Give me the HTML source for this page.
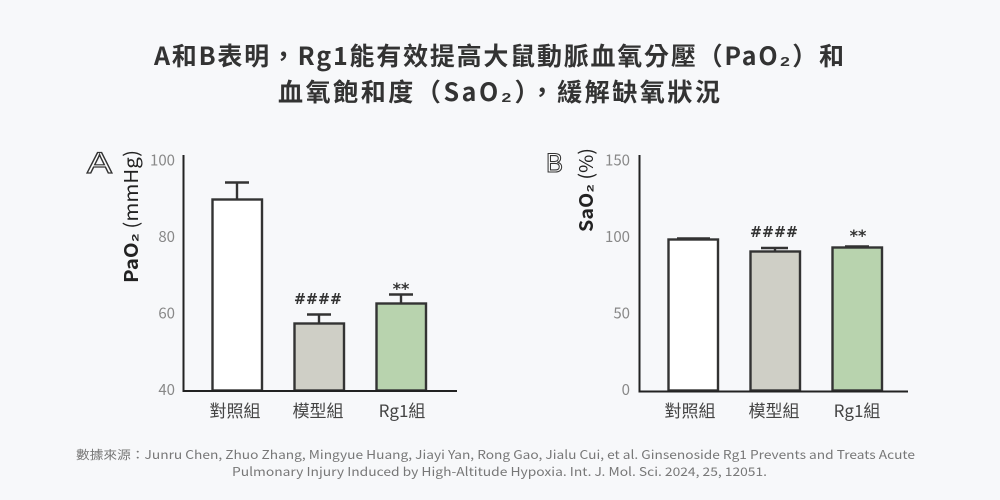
<!DOCTYPE html>
<html>
<head>
<meta charset="utf-8">
<style>
  html, body { margin:0; padding:0; background:#f7f8fa; }
  svg { display:block; }
  .t { font-family:"Noto Sans CJK TC","Liberation Sans","DejaVu Sans",sans-serif; }
</style>
</head>
<body>
<svg width="1000" height="500" viewBox="0 0 1000 500" xmlns="http://www.w3.org/2000/svg">
  <rect x="0" y="0" width="1000" height="500" fill="#f7f8fa"/>

  <!-- Title -->
  <text class="t" x="499" y="65" font-size="25" font-weight="bold" fill="#333" text-anchor="middle" textLength="690" lengthAdjust="spacing">A和B表明，Rg1能有效提高大鼠動脈血氧分壓（PaO₂）和</text>
  <text class="t" x="499" y="101" font-size="25" font-weight="bold" fill="#333" text-anchor="middle" textLength="442" lengthAdjust="spacing">血氧飽和度（SaO₂），緩解缺氧狀況</text>

  <!-- ========== Panel A ========== -->
  <text x="87" y="173" font-family="Liberation Sans, sans-serif" font-size="30" fill="#fff" stroke="#333" stroke-width="1.2" textLength="25" lengthAdjust="spacingAndGlyphs">A</text>
  <g transform="translate(138,216.5) rotate(-90)">
    <text class="t" x="0" y="0" font-size="19" fill="#222" text-anchor="middle" textLength="133" lengthAdjust="spacingAndGlyphs"><tspan font-weight="bold">PaO₂</tspan> (mmHg)</text>
  </g>
  <g class="t" font-size="15" fill="#888" text-anchor="end">
    <text x="175" y="165.5">100</text>
    <text x="175" y="242">80</text>
    <text x="175" y="318.5">60</text>
    <text x="175" y="395">40</text>
  </g>
  <!-- bars A -->
  <g stroke="#333" stroke-width="2.4">
    <line x1="237" y1="182.5" x2="237" y2="199.5"/>
    <line x1="225" y1="182.5" x2="249" y2="182.5"/>
    <rect x="212.5" y="199.5" width="49.5" height="191" fill="#ffffff"/>
    <line x1="319" y1="314.5" x2="319" y2="323.5"/>
    <line x1="307" y1="314.5" x2="331" y2="314.5"/>
    <rect x="294.5" y="323.5" width="49.5" height="67" fill="#cfcfc6"/>
    <line x1="401" y1="294.5" x2="401" y2="303.5"/>
    <line x1="389" y1="294.5" x2="413" y2="294.5"/>
    <rect x="376.5" y="303.5" width="49.5" height="87" fill="#b8d3ae"/>
  </g>
  <!-- axes A -->
  <line x1="183.5" y1="155" x2="183.5" y2="392" stroke="#222" stroke-width="2"/>
  <line x1="182.5" y1="391" x2="457" y2="391" stroke="#222" stroke-width="2"/>
  <!-- significance A -->
  <text x="318" y="304" font-family="DejaVu Sans, sans-serif" font-size="15" font-weight="bold" fill="#333" text-anchor="middle" textLength="48" lengthAdjust="spacingAndGlyphs">####</text>
  <text x="401" y="294" font-family="DejaVu Sans, sans-serif" font-size="16" font-weight="bold" fill="#333" text-anchor="middle">**</text>
  <!-- x labels A -->
  <g class="t" font-size="17" fill="#444" text-anchor="middle">
    <text x="235" y="417">對照組</text>
    <text x="318" y="417">模型組</text>
    <text x="402" y="417">Rg1組</text>
  </g>

  <!-- ========== Panel B ========== -->
  <text x="546" y="172" font-family="Liberation Sans, sans-serif" font-size="27" fill="#fff" stroke="#333" stroke-width="1.1" textLength="17" lengthAdjust="spacingAndGlyphs">B</text>
  <g transform="translate(593,190) rotate(-90)">
    <text class="t" x="0" y="0" font-size="19" fill="#222" text-anchor="middle" textLength="84" lengthAdjust="spacingAndGlyphs"><tspan font-weight="bold">SaO₂</tspan> (%)</text>
  </g>
  <g class="t" font-size="15" fill="#888" text-anchor="end">
    <text x="630" y="165.5">150</text>
    <text x="630" y="242">100</text>
    <text x="630" y="318.5">50</text>
    <text x="630" y="395">0</text>
  </g>
  <!-- bars B -->
  <g stroke="#333" stroke-width="2.4">
    <line x1="677" y1="238.5" x2="710" y2="238.5"/>
    <rect x="668.5" y="239.5" width="49.5" height="151" fill="#ffffff"/>
    <line x1="775" y1="248" x2="775" y2="251.5"/>
    <line x1="761" y1="248" x2="788" y2="248"/>
    <rect x="750.5" y="251.5" width="49.5" height="139" fill="#cfcfc6"/>
    <line x1="845" y1="246.5" x2="869" y2="246.5"/>
    <rect x="832.5" y="247.5" width="49.5" height="143" fill="#b8d3ae"/>
  </g>
  <!-- axes B -->
  <line x1="639.5" y1="155" x2="639.5" y2="392.5" stroke="#222" stroke-width="2"/>
  <line x1="638.5" y1="391.5" x2="908" y2="391.5" stroke="#222" stroke-width="2"/>
  <!-- significance B -->
  <text x="774" y="237" font-family="DejaVu Sans, sans-serif" font-size="15" font-weight="bold" fill="#333" text-anchor="middle" textLength="48" lengthAdjust="spacingAndGlyphs">####</text>
  <text x="858" y="241" font-family="DejaVu Sans, sans-serif" font-size="16" font-weight="bold" fill="#333" text-anchor="middle">**</text>
  <!-- x labels B -->
  <g class="t" font-size="17" fill="#444" text-anchor="middle">
    <text x="690" y="417">對照組</text>
    <text x="774" y="417">模型組</text>
    <text x="857" y="417">Rg1組</text>
  </g>

  <!-- Footer -->
  <text class="t" x="495.5" y="459" font-size="12" fill="#777" text-anchor="middle" textLength="839" lengthAdjust="spacingAndGlyphs">數據來源：Junru Chen, Zhuo Zhang, Mingyue Huang, Jiayi Yan, Rong Gao, Jialu Cui, et al. Ginsenoside Rg1 Prevents and Treats Acute</text>
  <text class="t" x="499.5" y="476" font-size="12" fill="#777" text-anchor="middle" textLength="535" lengthAdjust="spacingAndGlyphs">Pulmonary Injury Induced by High-Altitude Hypoxia. Int. J. Mol. Sci. 2024, 25, 12051.</text>
</svg>
</body>
</html>
